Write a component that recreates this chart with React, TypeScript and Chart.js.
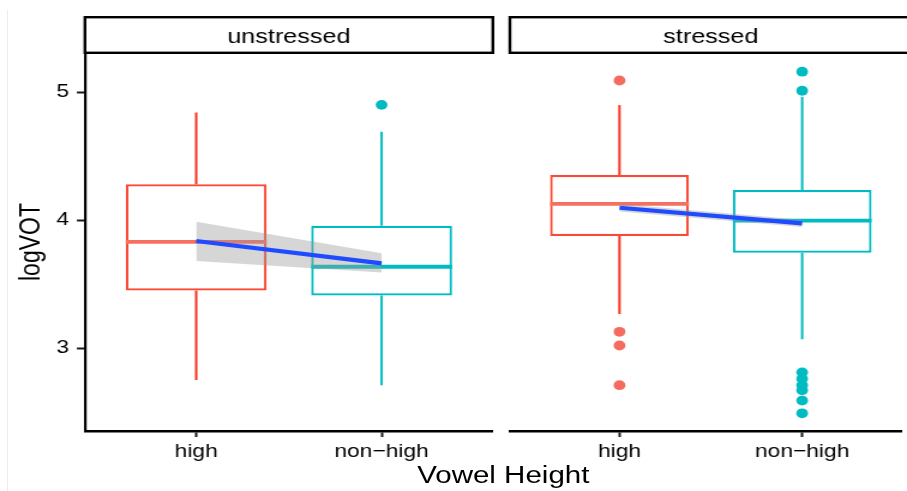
import React, { useEffect, useRef } from 'react';
import { Chart, registerables } from 'chart.js';

Chart.register(...registerables);
Chart.defaults.font.family = '"Liberation Sans", Arial, sans-serif';
Chart.defaults.color = '#000000';

// ---------------- data ----------------
const facets = ['unstressed', 'stressed'];
const categories = ['high', 'non\u2212high'];
const yTicks = [3, 4, 5];
const yAxisTitle = 'logVOT';
const xAxisTitle = 'Vowel Height';

const unstressedQ1 = [3.45, 3.41];
const unstressedMedian = [3.83, 3.635];
const unstressedQ3 = [4.28, 3.955];
const unstressedWhiskerLow = [2.75, 2.71];
const unstressedWhiskerHigh = [4.84, 4.69];
const unstressedOutliersHigh: number[] = [];
const unstressedOutliersNonHigh = [4.9];
const unstressedFit = [3.836, 3.662];
const unstressedFitLow = [3.68, 3.59];
const unstressedFitHigh = [3.987, 3.74];

const stressedQ1 = [3.875, 3.745];
const stressedMedian = [4.127, 3.995];
const stressedQ3 = [4.352, 4.234];
const stressedWhiskerLow = [3.266, 3.068];
const stressedWhiskerHigh = [4.898, 4.963];
const stressedOutliersHigh = [5.09, 3.127, 3.02, 2.71];
const stressedOutliersNonHigh = [5.159, 5.01, 2.81, 2.76, 2.71, 2.67, 2.59, 2.49];
const stressedFit = [4.096, 3.974];
const stressedFitLow = [4.066, 3.946];
const stressedFitHigh = [4.126, 4.002];

// ---------------- styles / layout ----------------
const Y_MIN = 2.352;
const Y_MAX = 5.305;
const X_MIN = 0.4;
const X_MAX = 2.6;
const BOX_WIDTH = 0.76;
const BOX_COLORS = ['#F94A35', '#00BCC2'];
const WHISKER_COLORS = ['#F8321F', '#00BCC2'];
const MEDIAN_COLORS = ['#F6705F', '#00BCC2'];
const POINT_COLORS = ['#F46C60', '#00BCC2'];
const FIT_COLOR = '#1F4BFF';
const BAND_COLOR = 'rgba(153,153,153,0.4)';
const SCALE_X = 907 / 756;
const H = 491;
const TOP_PAD = 53;
const X_AXIS_H = 60;
const LEFT_W = 418;
const RIGHT_W = 338;
const Y_AXIS_W = 70.8;
const LEFT_PAD_R = 7.2;
const RIGHT_PAD_L = 7;
const PX_PER_UNIT = (LEFT_W - Y_AXIS_W - LEFT_PAD_R) / (X_MAX - X_MIN);

interface PanelData {
  q1: number[]; median: number[]; q3: number[];
  wLow: number[]; wHigh: number[]; outliers: number[][];
  fit: number[]; fitLow: number[]; fitHigh: number[];
}

const unstressed: PanelData = {
  q1: unstressedQ1, median: unstressedMedian, q3: unstressedQ3,
  wLow: unstressedWhiskerLow, wHigh: unstressedWhiskerHigh,
  outliers: [unstressedOutliersHigh, unstressedOutliersNonHigh],
  fit: unstressedFit, fitLow: unstressedFitLow, fitHigh: unstressedFitHigh,
};
const stressed: PanelData = {
  q1: stressedQ1, median: stressedMedian, q3: stressedQ3,
  wLow: stressedWhiskerLow, wHigh: stressedWhiskerHigh,
  outliers: [stressedOutliersHigh, stressedOutliersNonHigh],
  fit: stressedFit, fitLow: stressedFitLow, fitHigh: stressedFitHigh,
};

function seg(data: { x: number; y: number }[], color: string, width: number, order: number) {
  return {
    type: 'line', data, borderColor: color, borderWidth: width, pointRadius: 0,
    tension: 0, fill: false, borderCapStyle: 'butt', order,
  };
}

function buildDatasets(p: PanelData) {
  const xs = categories.map((_, i) => i + 1);
  const ds: any[] = [];
  ds.push({
    type: 'bar',
    data: xs.map((x, i) => ({ x, y: [p.q1[i], p.q3[i]] })),
    backgroundColor: '#ffffff',
    borderColor: BOX_COLORS,
    borderWidth: 2.2,
    borderSkipped: false,
    barPercentage: BOX_WIDTH,
    categoryPercentage: 1,
    order: 10,
  });
  xs.forEach((x, i) => {
    ds.push(seg([{ x, y: p.q3[i] }, { x, y: p.wHigh[i] }], WHISKER_COLORS[i], 2, 9));
    ds.push(seg([{ x, y: p.q1[i] }, { x, y: p.wLow[i] }], WHISKER_COLORS[i], 2, 9));
    ds.push(seg([{ x: x - BOX_WIDTH / 2, y: p.median[i] }, { x: x + BOX_WIDTH / 2, y: p.median[i] }], MEDIAN_COLORS[i], 3.8, 8));
    ds.push({
      type: 'scatter', data: p.outliers[i].map((y) => ({ x, y })),
      pointRadius: 4.9, pointBackgroundColor: POINT_COLORS[i], pointBorderWidth: 0,
      pointBorderColor: 'rgba(0,0,0,0)', order: 7,
    });
  });
  ds.push({
    type: 'line', data: xs.map((x, i) => ({ x, y: p.fitHigh[i] })),
    borderWidth: 0, borderColor: 'rgba(0,0,0,0)', pointRadius: 0, tension: 0,
    fill: '+1', backgroundColor: BAND_COLOR, order: 5,
  });
  ds.push({
    type: 'line', data: xs.map((x, i) => ({ x, y: p.fitLow[i] })),
    borderWidth: 0, borderColor: 'rgba(0,0,0,0)', pointRadius: 0, tension: 0,
    fill: false, order: 5,
  });
  ds.push(seg(xs.map((x, i) => ({ x, y: p.fit[i] })), FIT_COLOR, 4.2, 1));
  return ds;
}

const stripPlugin = {
  id: 'strip',
  afterDraw(chart: any, _args: any, opts: any) {
    const { ctx, chartArea } = chart;
    const left = chartArea.left;
    const right = opts.open ? chart.width + 10 : chartArea.right;
    const top = 17.2;
    const bottom = 52.8;
    ctx.save();
    ctx.fillStyle = '#ffffff';
    ctx.fillRect(left, top, right - left, bottom - top);
    ctx.strokeStyle = '#000000';
    ctx.lineWidth = 2.4;
    ctx.strokeRect(left, top, right - left, bottom - top);
    ctx.fillStyle = '#000000';
    ctx.font = '21px "Liberation Sans", Arial, sans-serif';
    ctx.textAlign = 'center';
    ctx.textBaseline = 'alphabetic';
    const cx = chart.scales.x.getPixelForValue((X_MIN + X_MAX) / 2);
    ctx.fillText(opts.label, cx, 43.3);
    ctx.restore();
  },
};

function xScale(max: number) {
  return {
    type: 'linear', min: X_MIN, max, offset: false,
    afterBuildTicks: (s: any) => { s.ticks = categories.map((_, i) => ({ value: i + 1 })); },
    afterFit: (s: any) => { s.height = X_AXIS_H; },
    ticks: {
      font: { size: 19 }, color: '#000000', padding: 3, autoSkip: false, maxRotation: 0,
      callback: (v: any) => categories[Math.round(Number(v)) - 1] ?? '',
    },
    grid: { display: true, offset: false, drawOnChartArea: false, drawTicks: true, tickLength: 6, tickWidth: 2, tickColor: '#1a1a1a' },
    border: { display: true, color: '#000000', width: 2.5 },
  };
}

function PanelChart(props: { data: PanelData; facet: string; left: number; width: number; showY: boolean }) {
  const ref = useRef<HTMLCanvasElement>(null);
  useEffect(() => {
    const { data, facet, width, showY } = props;
    const padLeft = showY ? 0 : RIGHT_PAD_L;
    const padRight = showY ? LEFT_PAD_R : 0;
    const areaW = width - padLeft - padRight - (showY ? Y_AXIS_W : 0);
    const xMax = X_MIN + areaW / PX_PER_UNIT;
    const yScale: any = showY
      ? {
          type: 'linear', min: Y_MIN, max: Y_MAX,
          afterBuildTicks: (s: any) => { s.ticks = yTicks.map((v) => ({ value: v })); },
          afterFit: (s: any) => { s.width = Y_AXIS_W; },
          ticks: { font: { size: 19 }, color: '#000000', padding: 6.6 },
          grid: { display: true, drawOnChartArea: false, drawTicks: true, tickLength: 6.7, tickWidth: 2, tickColor: '#1a1a1a' },
          border: { display: true, color: '#000000', width: 2.2 },
          title: { display: true, text: yAxisTitle, font: { size: 23 }, color: '#000000', padding: { top: 12.5, bottom: 0 } },
        }
      : { type: 'linear', display: false, min: Y_MIN, max: Y_MAX };
    const chart = new Chart(ref.current as HTMLCanvasElement, {
      type: 'bar',
      data: { datasets: buildDatasets(data) as any },
      options: {
        animation: false,
        responsive: false,
        events: [],
        layout: { padding: { top: TOP_PAD, bottom: 0, left: padLeft, right: padRight } },
        plugins: {
          legend: { display: false },
          tooltip: { enabled: false },
          strip: { label: facet, open: !showY },
        } as any,
        scales: { x: xScale(xMax) as any, y: yScale },
      },
      plugins: [stripPlugin],
    });
    return () => chart.destroy();
  }, []);
  return (
    <canvas
      ref={ref}
      width={props.width}
      height={H}
      style={{ position: 'absolute', left: props.left, top: 0, width: props.width, height: H }}
    />
  );
}

export default function App() {
  return (
    <div style={{ position: 'absolute', left: 0, top: 0, width: 907, height: H, overflow: 'hidden', background: '#ffffff' }}>
      <div style={{ position: 'absolute', left: 7, top: 10, width: 1, height: H - 10, background: '#ededed' }} />
      <div
        style={{
          position: 'absolute', left: 0, top: 0, width: LEFT_W + RIGHT_W, height: H,
          transform: `scaleX(${SCALE_X})`, transformOrigin: '0 0',
        }}
      >
        <PanelChart data={unstressed} facet={facets[0]} left={0} width={LEFT_W} showY={true} />
        <PanelChart data={stressed} facet={facets[1]} left={LEFT_W} width={RIGHT_W} showY={false} />
        <div
          style={{
            position: 'absolute', left: 219.5, width: 400, top: 463.2, textAlign: 'center',
            fontFamily: '"Liberation Sans", Arial, sans-serif', fontSize: 24.6, lineHeight: '24.6px',
            color: '#000000', whiteSpace: 'nowrap',
          }}
        >
          {xAxisTitle}
        </div>
      </div>
    </div>
  );
}
